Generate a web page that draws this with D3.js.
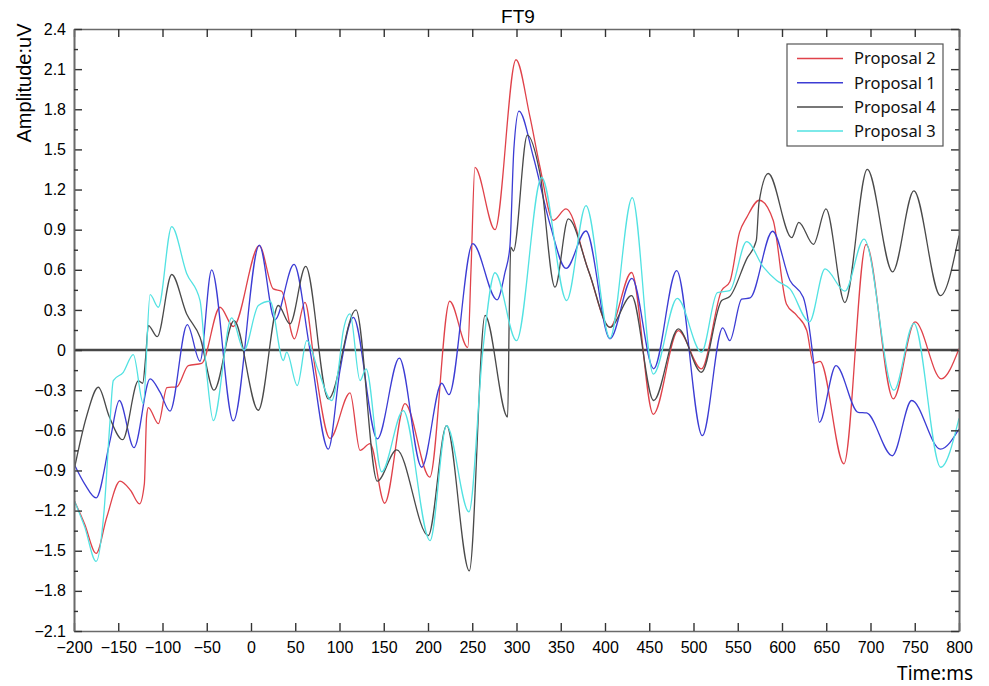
<!DOCTYPE html>
<html>
<head>
<meta charset="utf-8">
<script src="https://cdn.jsdelivr.net/npm/d3@7"></script>
<style>
  body { margin: 0; background: #fff; }
  svg { display: block; }
</style>
</head>
<body>
<svg width="989" height="686"></svg>
<script>
// series as [time ms, amplitude uV] key points
const seriesNames = ["Proposal 2", "Proposal 1", "Proposal 4", "Proposal 3"];
const seriesColors = ["#e0424a", "#3c3cd4", "#4a4a4a", "#52e2e2"];

const proposal2 = [[-200,-1.12],[-188,-1.3],[-175,-1.52],[-163,-1.25],[-148,-0.98],[-136,-1.05],[-126,-1.15],[-120.5,-1.0],[-118,-0.5],[-116,-0.43],[-104.7,-0.55],[-95,-0.28],[-84,-0.275],[-70.8,-0.116],[-55.7,-0.1],[-35,0.32],[-20,0.176],[9.4,0.78],[25.2,0.457],[34.6,0.44],[49,0.084],[61,0.357],[72.3,-0.128],[89.3,-0.66],[111.9,-0.32],[123.2,-0.75],[134.5,-0.70],[151,-1.145],[174,-0.40],[202,-0.95],[224.5,0.365],[245,0.02],[248.6,0.6],[253,1.365],[275.7,0.90],[299.4,2.17],[315,1.75],[326.5,1.37],[341.6,0.97],[356,1.055],[381,0.6],[405.6,0.17],[430,0.58],[454.6,-0.48],[482.8,0.146],[509,-0.14],[531.8,0.445],[541,0.51],[552,0.88],[560,0.99],[574.4,1.12],[590,0.97],[605,0.345],[616.6,0.26],[628,0.146],[635.5,-0.10],[643,-0.085],[670,-0.85],[695,0.79],[725.8,-0.365],[750.3,0.21],[780,-0.215],[800,0.01]];

const proposal1 = [[-200,-0.85],[-188,-1.0],[-175,-1.105],[-159.3,-0.676],[-148.8,-0.377],[-132.2,-0.73],[-114,-0.215],[-102.8,-0.315],[-91.5,-0.457],[-72,0.19],[-57.6,-0.084],[-44.5,0.6],[-20,-0.53],[9.4,0.785],[27,0.226],[48.6,0.64],[66.7,0.0],[87.4,-0.74],[100.6,-0.15],[115.6,0.245],[142.7,-0.664],[167.6,-0.06],[192.9,-0.876],[215.5,-0.248],[223.7,-0.333],[250.5,0.795],[278,0.375],[287,0.58],[292.5,0.77],[297,1.5],[302.8,1.786],[319,1.445],[337.9,0.94],[356,0.61],[378.5,0.89],[405.6,0.084],[430.5,0.536],[455,-0.14],[481,0.594],[510,-0.64],[533,0.166],[541,0.07],[554.4,0.38],[564,0.39],[589.4,0.888],[609,0.52],[624,0.395],[635.5,-0.08],[642.2,-0.54],[661,-0.116],[686,-0.465],[695.6,-0.47],[724.6,-0.79],[746.5,-0.377],[779,-0.74],[800,-0.59]];

const proposal4 = [[-200,-0.9],[-186,-0.5],[-172.5,-0.278],[-160,-0.5],[-145,-0.67],[-127.3,-0.23],[-122.4,-0.248],[-119,-0.05],[-116,0.183],[-105.9,0.1],[-89.6,0.565],[-72.7,0.27],[-57.6,0.096],[-41.8,-0.3],[-19.2,0.22],[8.3,-0.45],[30.8,0.333],[44,0.196],[61.8,0.626],[87.4,-0.365],[118.6,0.3],[142.7,-0.98],[164.6,-0.746],[200.3,-1.386],[221,-0.565],[246.7,-1.65],[264.4,0.26],[290,-0.5],[291.9,0.3],[293.5,0.77],[296.5,0.74],[312.2,1.607],[326.5,1.32],[343.5,0.47],[358.5,0.98],[382,0.58],[405.6,0.17],[430,0.407],[455,-0.377],[482.8,0.158],[509,-0.166],[531.8,0.37],[541,0.4],[560,0.68],[571,0.82],[574,1.1],[584.5,1.32],[611,0.84],[619,0.955],[635.5,0.79],[649.7,1.055],[671,0.355],[696.4,1.35],[725,0.585],[749,1.19],[779,0.407],[800,0.856]];

const proposal3 = [[-200,-1.12],[-188,-1.32],[-175,-1.58],[-166,-1.2],[-159.5,-0.55],[-155.6,-0.228],[-144.3,-0.166],[-133,-0.034],[-121.7,-0.40],[-114,0.415],[-104.7,0.32],[-89.6,0.923],[-72.7,0.573],[-57.6,0.37],[-50,-0.18],[-42.6,-0.527],[-21.8,0.24],[-7.9,0.0],[8.3,0.333],[21.5,0.365],[36.5,-0.078],[40.3,-0.016],[52.3,-0.265],[63,0.07],[76,-0.153],[91.2,-0.377],[98.7,-0.148],[104.3,0.146],[111.9,0.27],[123.2,-0.228],[130,-0.14],[147.6,-0.91],[172,-0.452],[202.3,-1.424],[221,-0.565],[246.3,-1.21],[262,0.0],[275.7,0.578],[300,0.07],[328.4,1.29],[356.7,0.37],[378.5,1.08],[405.6,0.09],[430.8,1.14],[454.6,-0.18],[481.7,0.386],[509,-0.016],[527,0.43],[541,0.445],[560,0.81],[579,0.62],[594,0.52],[609,0.457],[631,0.21],[648.6,0.607],[671,0.44],[692.6,0.83],[726.5,-0.30],[749,0.2],[779.3,-0.876],[800,-0.51]];

const allSeries = [proposal2, proposal1, proposal4, proposal3];

const xTicks = d3.range(-200, 801, 50);
const yTicks = [-2.1,-1.8,-1.5,-1.2,-0.9,-0.6,-0.3,0,0.3,0.6,0.9,1.2,1.5,1.8,2.1,2.4];
const yMinorTicks = [-1.95,-1.65,-1.35,-1.05,-0.75,-0.45,-0.15,0.15,0.45,0.75,1.05,1.35,1.65,1.95,2.25];

const plotLeft = 74, plotRight = 959, plotTop = 29, plotBottom = 631;
const axisColor = "#6a6a6a";

const svg = d3.select("svg");

const x = d3.scaleLinear().domain([-200, 800]).range([plotLeft, plotRight]);
const y = d3.scaleLinear().domain([-2.1, 2.4]).range([plotBottom, plotTop]);

svg.append("defs").append("clipPath").attr("id", "plot")
  .append("rect")
    .attr("x", plotLeft).attr("y", plotTop)
    .attr("width", plotRight - plotLeft).attr("height", plotBottom - plotTop);

// zero line
svg.append("line")
  .attr("x1", plotLeft).attr("x2", plotRight)
  .attr("y1", y(0)).attr("y2", y(0))
  .attr("stroke", "#474747")
  .attr("stroke-width", 2.4);

const line = d3.line()
  .x(d => x(d[0]))
  .y(d => y(d[1]))
  .curve(d3.curveMonotoneX);

const linesG = svg.append("g").attr("clip-path", "url(#plot)");
allSeries.forEach((s, i) => {
  linesG.append("path")
    .datum(s)
    .attr("fill", "none")
    .attr("stroke", seriesColors[i])
    .attr("stroke-width", 1.3)
    .attr("d", line);
});

// axes, ticks pointing inside
const fmtY = d => d === 0 ? "0" : d3.format(".1f")(d);

const xAxisB = svg.append("g")
  .attr("transform", `translate(0,${plotBottom})`)
  .call(d3.axisBottom(x).tickValues(xTicks).tickSizeInner(-8).tickSizeOuter(0).tickPadding(11));
const xAxisT = svg.append("g")
  .attr("transform", `translate(0,${plotTop})`)
  .call(d3.axisTop(x).tickValues(xTicks).tickSizeInner(-8).tickSizeOuter(0).tickFormat(""));
const yAxisL = svg.append("g")
  .attr("transform", `translate(${plotLeft},0)`)
  .call(d3.axisLeft(y).tickValues(yTicks).tickSizeInner(-8).tickSizeOuter(0).tickPadding(8).tickFormat(fmtY));
const yAxisR = svg.append("g")
  .attr("transform", `translate(${plotRight},0)`)
  .call(d3.axisRight(y).tickValues(yTicks).tickSizeInner(-8).tickSizeOuter(0).tickFormat(""));
const yMinL = svg.append("g")
  .attr("transform", `translate(${plotLeft},0)`)
  .call(d3.axisLeft(y).tickValues(yMinorTicks).tickSizeInner(-4).tickSizeOuter(0).tickFormat(""));
const yMinR = svg.append("g")
  .attr("transform", `translate(${plotRight},0)`)
  .call(d3.axisRight(y).tickValues(yMinorTicks).tickSizeInner(-4).tickSizeOuter(0).tickFormat(""));

[xAxisB, xAxisT, yAxisL, yAxisR, yMinL, yMinR].forEach(g => {
  g.select(".domain").attr("stroke", axisColor).attr("stroke-width", 1.6);
  g.selectAll(".tick line").attr("stroke", "#333").attr("stroke-width", 1.4);
  g.selectAll(".tick text")
    .attr("fill", "#000")
    .attr("font-family", "'Liberation Sans', Arial, sans-serif")
    .attr("font-size", "16px");
});

// title
svg.append("text")
  .attr("x", 518).attr("y", 23)
  .attr("text-anchor", "middle")
  .attr("font-family", "'Liberation Sans', Arial, sans-serif")
  .attr("font-size", "19px")
  .text("FT9");

// axis labels
svg.append("text")
  .attr("transform", "translate(31,83) rotate(-90)")
  .attr("text-anchor", "middle")
  .attr("font-family", "'Liberation Sans', Arial, sans-serif")
  .attr("font-size", "20px")
  .text("Amplitude:uV");

svg.append("text")
  .attr("x", 973).attr("y", 680)
  .attr("text-anchor", "end")
  .attr("font-family", "'Noto Sans', sans-serif")
  .attr("font-size", "19px")
  .text("Time:ms");

// legend
const legend = svg.append("g").attr("transform", "translate(787,44)");
legend.append("rect")
  .attr("width", 156).attr("height", 102)
  .attr("fill", "#fff")
  .attr("stroke", "#555")
  .attr("stroke-width", 1.2);

seriesNames.forEach((name, i) => {
  const ly = 14.5 + i * 24.2;
  legend.append("line")
    .attr("x1", 10).attr("x2", 56)
    .attr("y1", ly).attr("y2", ly)
    .attr("stroke", seriesColors[i])
    .attr("stroke-width", 1.5);
  legend.append("text")
    .attr("x", 67).attr("y", ly)
    .attr("dy", "0.36em")
    .attr("font-family", "'Noto Sans', sans-serif")
    .attr("font-size", "16.5px")
    .attr("fill", "#111")
    .text(name);
});
</script>
</body>
</html>
